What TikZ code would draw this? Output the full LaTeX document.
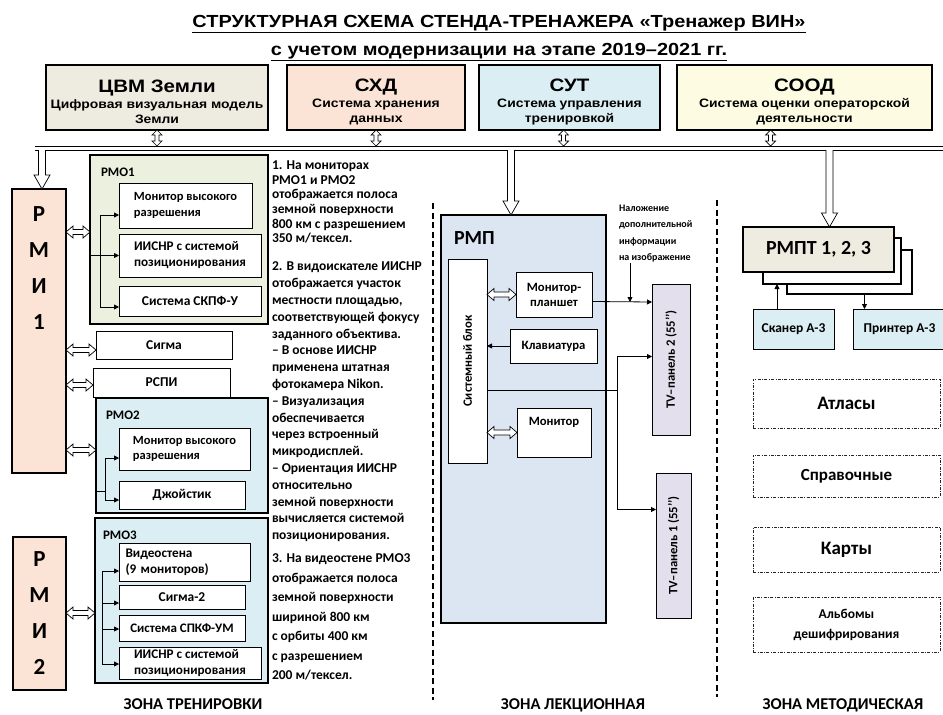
\documentclass[tikz,border=0pt]{standalone}
\usepackage{fontspec}
\setmainfont{Carlito}
\newfontfamily\arlw[FakeStretch=1.14]{Liberation Sans}
\usetikzlibrary{arrows.meta,calc}
\definecolor{cCVM}{HTML}{EEECE1}
\definecolor{cPeach}{HTML}{FBE4D5}
\definecolor{cBlue}{HTML}{DAEEF3}
\definecolor{cYel}{HTML}{FDFCE2}
\definecolor{cGreen}{HTML}{EBF1DE}
\definecolor{cRMP}{HTML}{DCE6F2}
\definecolor{cTV}{HTML}{E4DFEC}
\newcommand\fs[2]{\fontsize{#1}{#2}\selectfont\lineskiplimit=-20pt}
\newcommand\bx[7]{\node[#6,anchor=north west,minimum width={(#4)-(#2)},minimum height={(#5)-(#3)}] (#1) at (#2,#3) {#7};}
\newcommand\hud[2]{\draw[hol] (#1) -- ($(#1)+(-5,5)$) -- ($(#1)+(-2,5)$) -- ($(#2)+(-2,-5)$) -- ($(#2)+(-5,-5)$) -- (#2) -- ($(#2)+(5,-5)$) -- ($(#2)+(2,-5)$) -- ($(#1)+(2,5)$) -- ($(#1)+(5,5)$) -- cycle;}
\newcommand\hlr[2]{\draw[hol] (#1) -- ($(#1)+(7,-6)$) -- ($(#1)+(7,-2.5)$) -- ($(#2)+(-7,-2.5)$) -- ($(#2)+(-7,-6)$) -- (#2) -- ($(#2)+(-7,6)$) -- ($(#2)+(-7,2.5)$) -- ($(#1)+(7,2.5)$) -- ($(#1)+(7,6)$) -- cycle;}
\newcommand\hdown[2]{\draw[hol] ($(#1)+(-3.5,0)$) -- ($(#2)+(-3.5,-14)$) -- ($(#2)+(-8,-14)$) -- (#2) -- ($(#2)+(8,-14)$) -- ($(#2)+(3.5,-14)$) -- ($(#1)+(3.5,0)$);}
\newcommand\qq{\symbol{39}\symbol{39}}
\newcommand\hstrut{\rule{0pt}{22pt}}
\begin{document}
\begin{tikzpicture}[x=1pt,y=-1pt,
 every node/.style={inner sep=0pt,outer sep=0pt},
 tbox/.style={draw,line width=2.2pt,align=center},
 ibox/.style={draw,line width=0.9pt,fill=white,align=center},
 ddbox/.style={draw=black!85,line width=0.7pt,dash pattern=on 3pt off 1.5pt on 0.7pt off 1.5pt,align=center},
 hol/.style={draw,line width=0.7pt,fill=white},
 arr/.style={line width=0.8pt,-{Triangle[length=5pt,width=5pt]}},
 zone/.style={line width=1.6pt,dash pattern=on 6pt off 3.5pt},
 txt/.style={font=\bfseries\fs{13.5}{15.5}},
 rtxt/.style={font=\bfseries\fs{12.7}{15}},
 note/.style={align=left,anchor=north west},
 big/.style={font=\bfseries\fs{23}{36},align=center},
 lab/.style={font=\bfseries\fs{13}{15},anchor=west},
 hdr/.style={tbox,font=\arlw\bfseries\fs{12.2}{15.5}},
 zl/.style={font=\bfseries\fs{16.5}{20},anchor=base}]
\useasboundingbox (0,0) rectangle (943,715);
\fill[white] (0,0) rectangle (943,715);

% title
\node[font=\arlw\bfseries\fs{17.5}{20}] (title1) at (499,24) {\underline{СТРУКТУРНАЯ СХЕМА СТЕНДА-ТРЕНАЖЕРА «Тренажер ВИН»}};
\node[font=\arlw\bfseries\fs{17.5}{20}] (title2) at (499,52) {\underline{с учетом модернизации на этапе 2019–2021 гг.}};

% top boxes
\bx{cvm}{46}{65}{268}{130}{hdr,fill=cCVM}{\hstrut{\fs{18}{20}ЦВМ Земли}\\Цифровая визуальная модель\\Земли}
\bx{shd}{287}{65}{465}{130}{hdr,fill=cPeach}{\hstrut{\fs{18}{20}СХД}\\Система хранения\\данных}
\bx{sut}{479}{65}{660}{130}{hdr,fill=cBlue}{\hstrut{\fs{18}{20}СУТ}\\Система управления\\тренировкой}
\bx{sood}{677}{65}{932}{130}{hdr,fill=cYel}{\hstrut{\fs{18}{20}СООД}\\Система оценки операторской\\деятельности}

% bus
\coordinate (busL1) at (35,146); \coordinate (busR1) at (943,146);
\coordinate (busL2) at (35,150); \coordinate (busR2) at (943,150);
\draw[line width=0.8pt] (busL1) -- (busR1);
\draw[line width=0.8pt] (busL2) -- (busR2);

\coordinate (u1a) at (cvm.south); \coordinate (u1b) at (cvm.south |- busL1);
\coordinate (u2a) at (shd.south); \coordinate (u2b) at (shd.south |- busL1);
\coordinate (u3a) at ([xshift=-6pt]sut.south); \coordinate (u3b) at ([xshift=-6pt]sut.south |- busL1);
\coordinate (u4a) at ([xshift=-34pt]sood.south); \coordinate (u4b) at ([xshift=-34pt]sood.south |- busL1);
\hud{u1a}{u1b} \hud{u2a}{u2b} \hud{u3a}{u3b} \hud{u4a}{u4b}

% RMI1
\bx{rmi1}{12}{189}{66}{473}{draw,line width=2pt,fill=cPeach}{}
\node[big] (rmi1t) at (39,268) {Р\\М\\И\\1};
\coordinate (r1a) at ([xshift=3pt]rmi1.north |- busL2); \coordinate (r1b) at ([xshift=3pt]rmi1.north);
\hdown{r1a}{r1b}

% RMO1
\bx{rmo1}{90}{155}{268}{324}{tbox,fill=cGreen}{}
\node[lab] (rmo1l) at (101,172) {РМО1};
\bx{mon1}{119}{183}{252}{228}{ibox,txt,font=\bfseries\fs{12.5}{15.5},align=left}{Монитор высокого\\разрешения}
\bx{iis1}{119}{234}{261}{277}{ibox,txt,font=\bfseries\fs{13.2}{16},align=left}{ИИСНР с системой\\позиционирования}
\bx{skpf}{119}{286}{261}{316}{ibox,txt}{Система СКПФ-У}
\coordinate (k1) at (100,258);
\draw[arr] (rmo1.west |- iis1.west) -- (iis1.west);
\draw[arr] (k1) |- ([yshift=-9.5pt]mon1.west);
\draw[arr] (k1) |- ([yshift=-6pt]skpf.west);
\coordinate (d1l) at (rmi1.east |- 0,232); \coordinate (d1r) at (rmo1.west |- 0,232);
\hlr{d1l}{d1r}

% Sigma, RSPI
\bx{sigma}{96}{331}{232}{359}{ibox,txt}{Сигма}
\bx{rspi}{93}{368}{230}{397}{ibox,txt}{РСПИ}
\coordinate (d2l) at (rmi1.east |- 0,350); \coordinate (d2r) at (sigma.west |- 0,350);
\hlr{d2l}{d2r}
\coordinate (d3l) at (rmi1.east |- 0,385); \coordinate (d3r) at (rspi.west |- 0,385);
\hlr{d3l}{d3r}

% RMO2
\bx{rmo2}{96}{398}{268}{513}{tbox,fill=cBlue}{}
\node[lab] (rmo2l) at (106,415) {РМО2};
\bx{mon2}{119}{428}{250}{470}{ibox,txt,font=\bfseries\fs{12.5}{15.5},align=left}{Монитор высокого\\разрешения}
\bx{joy}{119}{481}{245}{509}{ibox,txt}{Джойстик}
\coordinate (k2) at (105,491);
\draw (rmo2.west |- k2) -- (k2);
\draw[arr] (k2) |- ([yshift=-9pt]mon2.west);
\draw[arr] (k2) |- ([yshift=-5pt]joy.west);
\coordinate (d4l) at (rmi1.east |- 0,450); \coordinate (d4r) at (rmo2.west |- 0,450);
\hlr{d4l}{d4r}

% RMI2 & RMO3
\bx{rmi2}{13}{537}{66}{690}{draw,line width=2pt,fill=cPeach,big}{Р\\М\\И\\2}
\bx{rmo3}{95}{518}{268}{683}{tbox,fill=cBlue}{}
\node[lab] (rmo3l) at (103,535) {РМО3};
\bx{video}{119}{543}{250}{581}{ibox,txt,font=\bfseries\fs{13.2}{16},align=left,text width=118pt}{Видеостена\\(9 мониторов)}
\bx{sig2}{119}{585}{245}{609}{ibox,txt}{Сигма-2}
\bx{spkf}{119}{615}{245}{641}{ibox,txt,font=\bfseries\fs{13}{15}}{Система СПКФ-УМ}
\bx{iis3}{119}{647}{261}{679}{ibox,txt,font=\bfseries\fs{13.2}{16},align=left}{ИИСНР с системой\\позиционирования}
\coordinate (k3) at (102,571);
\draw[arr] (k3) -- (video.west |- k3);
\draw[arr] (k3) |- ([yshift=-6pt]sig2.west);
\draw[arr] (k3) |- ([yshift=-1pt]spkf.west);
\draw[arr] (k3) |- ([yshift=-1pt]iis3.west);
\coordinate (d5l) at (rmi2.east |- 0,613); \coordinate (d5r) at (rmo3.west |- 0,613);
\hlr{d5l}{d5r}

% notes
\node[note,font=\bfseries\fs{13.5}{14.6}] (n1) at (272,161) {1. На мониторах\\РМО1 и РМО2\\отображается полоса\\земной поверхности\\800 км с разрешением\\350 м/тексел.};
\node[note,font=\bfseries\fs{13.5}{16.8}] (n2) at (272,262) {2. В видоискателе ИИСНР\\отображается участок\\местности площадью,\\соответствующей фокусу\\заданного объектива.\\– В основе ИИСНР\\применена штатная\\фотокамера Nikon.\\– Визуализация\\обеспечивается\\через встроенный\\микродисплей.\\– Ориентация ИИСНР\\относительно\\земной поверхности\\вычисляется системой\\позиционирования.};
\node[note,font=\bfseries\fs{13.5}{19.5}] (n3) at (272,554) {3. На видеостене РМО3\\отображается полоса\\земной поверхности\\шириной 800 км\\с орбиты 400 км\\с разрешением\\200 м/тексел.};

% zone lines
\coordinate (z1a) at (433,203); \coordinate (z1b) at (433,700);
\coordinate (z2a) at (717,200); \coordinate (z2b) at (717,697);
\draw[zone] (z1a) -- (z1b);
\draw[zone] (z2a) -- (z2b);

% RMP
\bx{rmp}{441}{215}{606}{623}{tbox,fill=cRMP}{}
\node[font=\bfseries\fs{20}{24},anchor=west] (rmpl) at (454,238) {РМП};
\coordinate (p1a) at ([xshift=-12.5pt]rmp.north |- busL2); \coordinate (p1b) at ([xshift=-12.5pt]rmp.north);
\hdown{p1a}{p1b}
\bx{sysb}{448}{259}{487}{463}{ibox}{}
\node[rtxt,rotate=90] (sysbt) at (sysb.center) {Системный блок};
\bx{plan}{516}{272}{592}{317}{ibox,rtxt}{Монитор-\\планшет}
\bx{klav}{510}{329}{597}{363}{ibox,rtxt}{Клавиатура}
\bx{mon}{517}{408}{591}{457}{ibox}{}
\node[rtxt,anchor=north] (mont) at ([yshift=-9pt]mon.north) {Монитор};
\hlr{sysb.east |- plan.west}{plan.west}
\draw[arr] (klav.west) -- (sysb.east |- klav.west);
\hlr{sysb.east |- mon.west}{mon.west}

% TV
\bx{tv2}{652}{284}{690}{435}{draw,line width=0.9pt,fill=cTV}{}
\node[rtxt,rotate=90] (tv2t) at (tv2.center) {TV–панель 2 (55\qq)};
\bx{tv1}{656}{473}{691}{618}{draw,line width=0.9pt,fill=cTV}{}
\node[rtxt,rotate=90] (tv1t) at (tv1.center) {TV–панель 1 (55\qq)};
\coordinate (jn) at (617,390);
\draw[line width=0.8pt] (sysb.east |- jn) -- (jn);
\draw[arr] (jn) |- ([yshift=3pt]tv2.west);
\draw[arr] (jn) |- ([yshift=36pt]tv1.west);
\draw[arr] ([yshift=-7pt]plan.east) -- (tv2.west |- 0,302);
\node[note,font=\bfseries\fs{10}{16.5}] (annot) at (619,205) {Наложение\\дополнительной\\информации\\на изображение};
\coordinate (ax) at (630,302);
\draw[arr] (ax |- annot.south) -- (ax);

% right zone
\bx{pt3}{787}{250}{912}{294}{draw,line width=2pt,fill=white}{}
\bx{pt2}{763}{238}{901}{284}{draw,line width=2pt,fill=white}{}
\bx{pt1}{743}{227}{894}{272}{draw,line width=2pt,fill=cCVM,font=\bfseries\fs{20}{24}}{РМПТ 1, 2, 3}
\coordinate (q1a) at ([xshift=11pt]pt1.north |- busL2); \coordinate (q1b) at ([xshift=11pt]pt1.north);
\hdown{q1a}{q1b}
\bx{scan}{753}{309}{834}{349}{draw,line width=0.9pt,fill=cBlue,txt}{Сканер А-3}
\bx{print}{853}{309}{946}{349}{draw,line width=0.9pt,fill=cBlue,txt}{Принтер А-3}
\draw[arr] ([xshift=-16.5pt]scan.north) -- ([xshift=-16.5pt]scan.north |- pt2.south);
\draw[arr] ([xshift=-35pt]print.north |- pt3.south) -- ([xshift=-35pt]print.north);

\bx{atl}{753}{379}{940}{428}{ddbox,font=\bfseries\fs{19}{22}}{Атласы}
\bx{spr}{753}{455}{940}{497}{ddbox,font=\bfseries\fs{17}{20}}{Справочные}
\bx{kar}{753}{527}{940}{572}{ddbox,font=\bfseries\fs{19}{22}}{Карты}
\bx{alb}{753}{597}{940}{652}{ddbox,font=\bfseries\fs{13.5}{20}}{Альбомы\\дешифрирования}

% zone labels
\node[zl] (zt) at (193,709) {ЗОНА ТРЕНИРОВКИ};
\node[zl] (zlk) at (573,709) {ЗОНА ЛЕКЦИОННАЯ};
\node[zl] (zm) at (843,709) {ЗОНА МЕТОДИЧЕСКАЯ};
\end{tikzpicture}
\end{document}
